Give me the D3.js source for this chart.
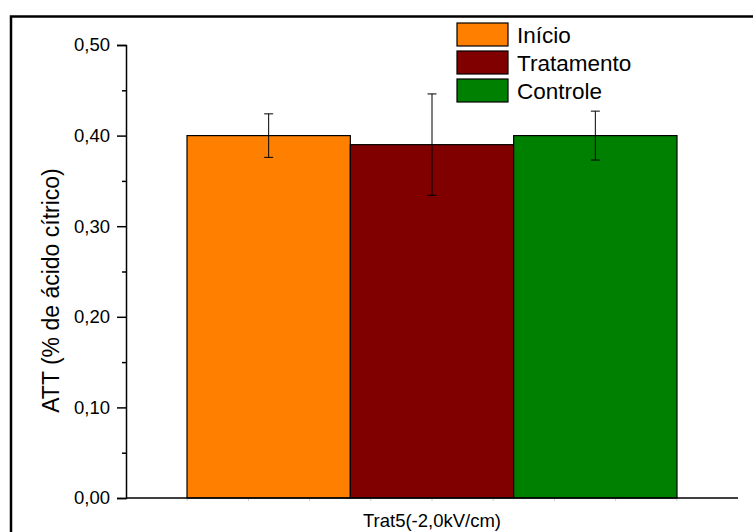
<!DOCTYPE html>
<html>
<head>
<meta charset="utf-8">
<script src="https://cdn.jsdelivr.net/npm/d3@7"></script>
<style>
  html, body { margin: 0; padding: 0; background: #fff; }
  svg { display: block; font-family: "Liberation Sans", Arial, sans-serif; }
</style>
</head>
<body>
<svg id="chart" width="753" height="532"></svg>
<script>
// Dataset: titratable acidity per group
const groups = ["Trat5(-2,0kV/cm)"];
const series = ["Início", "Tratamento", "Controle"];
const means = [0.40, 0.39, 0.40];
const errors = [0.024, 0.056, 0.027];
const colors = ["#FF8000", "#800000", "#008000"];
const yTicks = [0, 0.1, 0.2, 0.3, 0.4, 0.5];
const yMinorTicks = [0.05, 0.15, 0.25, 0.35, 0.45];

const svg = d3.select("#chart");

// outer frame
svg.append("rect")
  .attr("x", 11).attr("y", 16.5)
  .attr("width", 760).attr("height", 540)
  .attr("fill", "none").attr("stroke", "#000").attr("stroke-width", 2.5);

const plotLeft = 126, plotRight = 738, plotTop = 45, plotBottom = 498;

const y = d3.scaleLinear().domain([0, 0.5]).range([plotBottom, plotTop]);
const x0 = d3.scaleBand().domain(groups).range([plotLeft, plotRight])
  .paddingInner(0).paddingOuter(0.1245);
const x1 = d3.scaleBand().domain(series).range([0, x0.bandwidth()]).padding(0);

const fmt = v => d3.format(".2f")(v).replace(".", ",");

// bars
const g = svg.append("g");
series.forEach((s, i) => {
  const bx = x0(groups[0]) + x1(s);
  g.append("rect")
    .attr("x", bx).attr("y", y(means[i]))
    .attr("width", x1.bandwidth()).attr("height", y(0) - y(means[i]))
    .attr("fill", colors[i]).attr("stroke", "#000").attr("stroke-width", 1.2);
});

// error bars
series.forEach((s, i) => {
  const cx = x0(groups[0]) + x1(s) + x1.bandwidth() / 2;
  const hi = y(means[i] + errors[i]), lo = y(means[i] - errors[i]);
  const eg = svg.append("g").attr("stroke", "#000").attr("stroke-width", 1);
  eg.append("line").attr("x1", cx).attr("x2", cx).attr("y1", hi).attr("y2", lo);
  eg.append("line").attr("x1", cx - 4.5).attr("x2", cx + 4.5).attr("y1", hi).attr("y2", hi);
  eg.append("line").attr("x1", cx - 4.5).attr("x2", cx + 4.5).attr("y1", lo).attr("y2", lo);
});

// y axis
const yAxis = d3.axisLeft(y).tickValues(yTicks).tickFormat(fmt).tickSize(9).tickPadding(7);
const ya = svg.append("g").attr("transform", `translate(${plotLeft},0)`).call(yAxis);
ya.attr("font-size", null).attr("font-family", null);
ya.select(".domain").attr("stroke-width", 1.5);
ya.selectAll(".tick line").attr("stroke-width", 1.5);
ya.selectAll(".tick text").attr("font-size", 18.5).attr("fill", "#000");
const yMinor = d3.axisLeft(y).tickValues(yMinorTicks).tickSize(4).tickFormat("");
const ym = svg.append("g").attr("transform", `translate(${plotLeft},0)`).call(yMinor);
ym.select(".domain").remove();
ym.selectAll(".tick line").attr("stroke-width", 1.5);

// x axis line
svg.append("line")
  .attr("x1", plotLeft).attr("x2", plotRight).attr("y1", plotBottom).attr("y2", plotBottom)
  .attr("stroke", "#000").attr("stroke-width", 1.5);

// faint x minor ticks
const xMinor = d3.range(1, 10).map(k => plotLeft + k * 61.2);
svg.append("g").selectAll("line").data(xMinor).join("line")
  .attr("x1", d => d).attr("x2", d => d)
  .attr("y1", plotBottom + 1).attr("y2", plotBottom + 3)
  .attr("stroke", "#ccc").attr("stroke-width", 1);

// x axis label
svg.append("text")
  .attr("x", x0(groups[0]) + x0.bandwidth() / 2).attr("y", 527)
  .attr("text-anchor", "middle").attr("font-size", 18.5)
  .text(groups[0]);

// y axis title
svg.append("text")
  .attr("transform", "translate(59,290.5) rotate(-90)")
  .attr("text-anchor", "middle").attr("font-size", 23)
  .text("ATT (% de ácido cítrico)");

// legend
const lg = svg.append("g").attr("transform", "translate(457,23)");
series.forEach((s, i) => {
  const row = lg.append("g").attr("transform", `translate(0,${i * 28})`);
  row.append("rect").attr("width", 51).attr("height", 23)
    .attr("fill", colors[i]).attr("stroke", "#000").attr("stroke-width", 1.2);
  row.append("text").attr("x", 60).attr("y", 19.5)
    .attr("font-size", 22.5).text(s);
});
</script>
</body>
</html>
